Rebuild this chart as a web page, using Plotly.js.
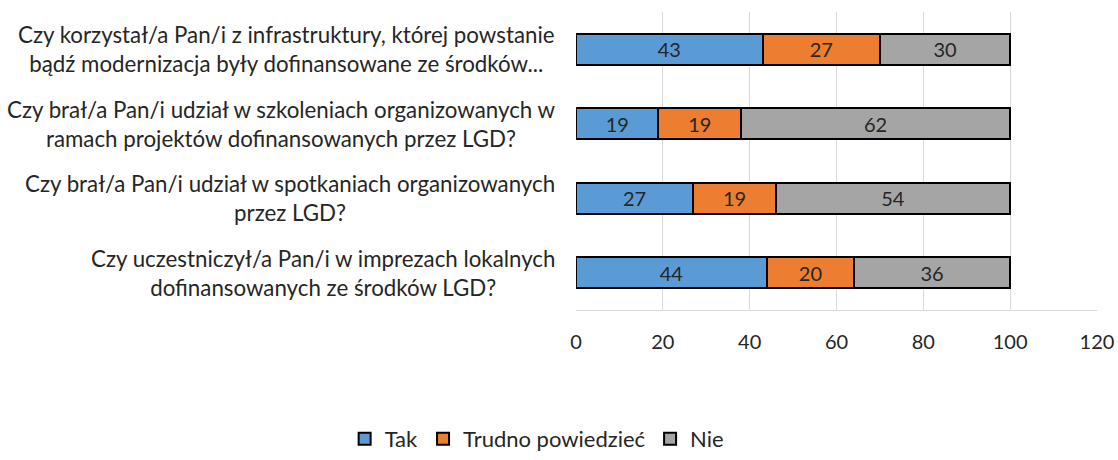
<!DOCTYPE html>
<html>
<head>
<meta charset="utf-8">
<script src="https://cdn.plot.ly/plotly-3.0.1.min.js"></script>
<style>html,body{margin:0;padding:0;background:#fff;}#chart{width:1118px;height:460px;}</style>
</head>
<body>
<div id="chart"></div>
<script>
var categories = [
  "Czy korzystał/a Pan/i z infrastruktury, której powstanie<br>bądź modernizacja były dofinansowane ze środków...",
  "Czy brał/a Pan/i udział w szkoleniach organizowanych w<br>ramach projektów dofinansowanych przez LGD?",
  "Czy brał/a Pan/i udział w spotkaniach organizowanych<br>przez LGD?",
  "Czy uczestniczył/a Pan/i w imprezach lokalnych<br>dofinansowanych ze środków LGD?"
];
var seriesNames = ["Tak", "Trudno powiedzieć", "Nie"];
var tak = [43, 19, 27, 44];
var trudno = [27, 19, 19, 20];
var nie = [30, 62, 54, 36];
var xTicks = [0, 20, 40, 60, 80, 100, 120];

var colors = ["#5B9BD5", "#ED7D31", "#A5A5A5"];
var values = [tak, trudno, nie];
var ids = categories.map(function(c, i){ return "c" + i; });
var FONT = "Lato, Calibri, 'Open Sans', sans-serif";

var traces = values.map(function(v, k){
  return {
    type: "bar",
    orientation: "h",
    name: seriesNames[k],
    y: ids,
    x: v,
    text: v.map(String),
    textposition: "inside",
    insidetextanchor: "middle",
    constraintext: "none",
    textfont: {family: FONT, size: 20, color: "#262626"},
    marker: {color: colors[k], line: {color: "#000000", width: 2}},
    hoverinfo: "x+name"
  };
});

var annotations = categories.map(function(c, i){
  return {
    xref: "paper", yref: "y",
    x: -0.036, y: ids[i],
    xanchor: "right", yanchor: "middle",
    align: "center",
    text: c,
    showarrow: false,
    font: {family: FONT, size: 22.3, color: "#262626"}
  };
});

var layout = {
  width: 1118, height: 460,
  margin: {l: 576, r: 21, t: 12, b: 150},
  paper_bgcolor: "#ffffff",
  plot_bgcolor: "#ffffff",
  barmode: "stack",
  bargap: 0.58,
  showlegend: true,
  legend: {
    orientation: "h",
    x: 0.48, xref: "container", xanchor: "center",
    y: 0.0, yref: "container", yanchor: "bottom",
    font: {family: FONT, size: 22, color: "#262626"},
    traceorder: "normal",
    itemwidth: 30
  },
  xaxis: {
    range: [0, 120],
    tickvals: xTicks,
    ticktext: xTicks.map(String),
    showgrid: true, gridcolor: "#d9d9d9", gridwidth: 1,
    zeroline: false,
    showline: true, linecolor: "#d9d9d9", linewidth: 1,
    ticks: "",
    ticklen: 0,
    ticklabelstandoff: 14,
    tickfont: {family: FONT, size: 20, color: "#262626"},
    fixedrange: true
  },
  yaxis: {
    type: "category",
    autorange: "reversed",
    showticklabels: false,
    showgrid: false,
    zeroline: false,
    showline: false,
    ticks: "",
    fixedrange: true
  },
  annotations: annotations
};

Plotly.newPlot("chart", traces, layout, {displayModeBar: false, staticPlot: true});
</script>
</body>
</html>
